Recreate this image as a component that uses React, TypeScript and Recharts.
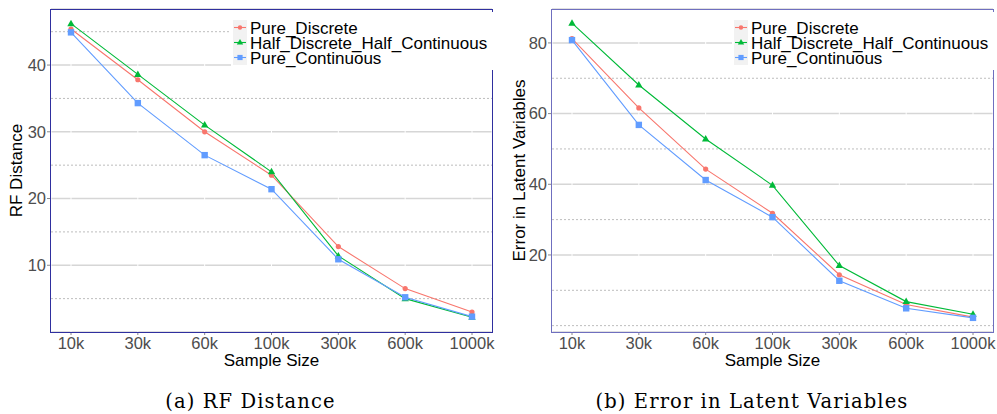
import React from "react";
import {
  LineChart,
  Line,
  XAxis,
  YAxis,
  CartesianGrid,
  ReferenceLine,
  Label,
} from "recharts";

// sample sizes (x categories)
const sizes = ["10k", "30k", "60k", "100k", "300k", "600k", "1000k"];

// (a) RF distance
const rfPureDiscrete = [45.4, 37.8, 30.0, 23.5, 12.8, 6.5, 3.0];
const rfHalf = [46.2, 38.6, 31.0, 24.0, 11.4, 5.0, 2.2];
const rfPureContinuous = [44.9, 34.3, 26.5, 21.4, 10.9, 5.2, 2.3];

// (b) error in latent variables
const lvPureDiscrete = [81.2, 61.6, 44.3, 31.8, 14.4, 6.0, 2.4];
const lvHalf = [85.6, 68.1, 52.8, 39.7, 17.0, 6.8, 3.2];
const lvPureContinuous = [80.8, 56.8, 41.2, 30.7, 12.7, 4.9, 2.2];

const rfTicks = [10, 20, 30, 40];
const rfMinor = [5, 15, 25, 35, 45];
const lvTicks = [20, 40, 60, 80];
const lvMinor = [0, 10, 30, 50, 70];

const seriesNames = ["Pure_Discrete", "Half_Discrete_Half_Continuous", "Pure_Continuous"];

const RED = "#F8766D";
const GREEN = "#00BA38";
const BLUE = "#619CFF";

const SANS = "'Liberation Sans', Arial, sans-serif";
const tickStyle = { fontSize: 16.5, fill: "#4d4d4d", fontFamily: SANS };

function buildRows(a: number[], b: number[], c: number[]) {
  return sizes.map((s, i) => ({ size: s, pd: a[i], hdhc: b[i], pc: c[i] }));
}

const rfRows = buildRows(rfPureDiscrete, rfHalf, rfPureContinuous);
const lvRows = buildRows(lvPureDiscrete, lvHalf, lvPureContinuous);

function circleDot(p: any) {
  return <circle key={`c${p.index}`} cx={p.cx} cy={p.cy} r={2.6} fill={RED} />;
}
function triDot(p: any) {
  const { cx, cy } = p;
  return (
    <polygon
      key={`t${p.index}`}
      points={`${cx},${cy - 4} ${cx - 3.7},${cy + 2.5} ${cx + 3.7},${cy + 2.5}`}
      fill={GREEN}
    />
  );
}
function squareDot(p: any) {
  return <rect key={`s${p.index}`} x={p.cx - 3.2} y={p.cy - 3.2} width={6.4} height={6.4} fill={BLUE} />;
}

function yTitle(text: string, off: number) {
  return (props: any) => {
    const vb = props.viewBox || { x: 0, y: 0, width: 0, height: 0 };
    const cx = vb.x + off;
    const cy = vb.y + vb.height / 2;
    return (
      <text
        x={cx}
        y={cy}
        transform={`rotate(-90 ${cx} ${cy})`}
        textAnchor="middle"
        dominantBaseline="central"
        fontSize={17}
        fontFamily={SANS}
        fill="#000"
      >
        {text}
      </text>
    );
  };
}

function Panel({
  rows,
  width,
  yWidth,
  right,
  domain,
  ticks,
  minor,
  title,
  titleOff,
}: {
  rows: any[];
  width: number;
  yWidth: number;
  right: number;
  domain: [number, number];
  ticks: number[];
  minor: number[];
  title: string;
  titleOff: number;
}) {
  return (
    <LineChart width={width} height={370} data={rows} margin={{ top: 9, right, bottom: 0, left: 0 }}>
      <CartesianGrid vertical={false} stroke="#d6d6d6" strokeWidth={1.5} />
      {minor.map((v) => (
        <ReferenceLine key={v} y={v} stroke="#bdbdbd" strokeDasharray="2 2" strokeWidth={1} />
      ))}
      <CartesianGrid horizontal={false} stroke="#ffffff" strokeWidth={1} />
      <XAxis
        dataKey="size"
        interval={0}
        padding={{ left: 20, right: 20 }}
        axisLine={false}
        tickLine={{ stroke: "#888" }}
        tickSize={3}
        tickMargin={2}
        height={38}
        tick={tickStyle}
      >
        <Label value="Sample Size" position="insideBottom" offset={4} fontSize={17} fontFamily={SANS} fill="#000" />
      </XAxis>
      <YAxis
        type="number"
        domain={domain}
        allowDataOverflow
        ticks={ticks}
        width={yWidth}
        axisLine={false}
        tickLine={{ stroke: "#888" }}
        tickSize={4}
        tickMargin={1}
        tick={tickStyle}
      >
        <Label content={yTitle(title, titleOff)} />
      </YAxis>
      <Line dataKey="pd" stroke={RED} strokeWidth={1.1} dot={circleDot} isAnimationActive={false} />
      <Line dataKey="hdhc" stroke={GREEN} strokeWidth={1.1} dot={triDot} isAnimationActive={false} />
      <Line dataKey="pc" stroke={BLUE} strokeWidth={1.1} dot={squareDot} isAnimationActive={false} />
    </LineChart>
  );
}

function KeyIcon({ i }: { i: number }) {
  const color = [RED, GREEN, BLUE][i];
  return (
    <svg width={14} height={15} style={{ display: "block" }}>
      <rect x={0} y={0} width={14} height={15} fill="#f2f2f2" />
      <line x1={1} x2={13} y1={7.5} y2={7.5} stroke={color} strokeWidth={1.1} />
      {i === 0 && <circle cx={7} cy={7.5} r={2.2} fill={color} />}
      {i === 1 && <polygon points="7,4 3.8,9.6 10.2,9.6" fill={color} />}
      {i === 2 && <rect x={4.4} y={4.9} width={5.2} height={5.2} fill={color} />}
    </svg>
  );
}

function Legend2({ left, keyX, textX, width }: { left: number; keyX: number; textX: number; width: number }) {
  return (
    <div style={{ position: "absolute", left, top: 12, width, height: 58, background: "#fff" }}>
      {seriesNames.map((n, i) => (
        <React.Fragment key={n}>
          <div style={{ position: "absolute", left: keyX - left, top: 20 - 12 + i * 15 }}>
            <KeyIcon i={i} />
          </div>
          <div
            style={{
              position: "absolute",
              left: textX - left,
              top: 21 - 12 + i * 15,
              fontFamily: SANS,
              fontSize: 17,
              lineHeight: "15px",
              whiteSpace: "nowrap",
              color: "#000",
            }}
          >
            {n}
          </div>
        </React.Fragment>
      ))}
    </div>
  );
}

const captionStyle: React.CSSProperties = {
  position: "absolute",
  top: 392,
  textAlign: "center",
  fontFamily: "'DejaVu Serif', serif",
  fontSize: 19.5,
  lineHeight: "20px",
  letterSpacing: "1.1px",
  color: "#000",
  whiteSpace: "nowrap",
};

export default function App() {
  return (
    <div style={{ position: "absolute", left: 0, top: 0, width: 997, height: 414, background: "#fff", overflow: "hidden" }}>
      <div style={{ position: "absolute", left: 0, top: 0 }}>
        <Panel
          rows={rfRows}
          width={500}
          yWidth={51}
          right={8}
          domain={[0, 48.4]}
          ticks={rfTicks}
          minor={rfMinor}
          title="RF Distance"
          titleOff={16}
        />
      </div>
      <div style={{ position: "absolute", left: 500, top: 0 }}>
        <Panel
          rows={lvRows}
          width={497}
          yWidth={52}
          right={4}
          domain={[-1.8, 89.6]}
          ticks={lvTicks}
          minor={lvMinor}
          title="Error in Latent Variables"
          titleOff={19}
        />
      </div>
      {/* panel borders */}
      <div style={{ position: "absolute", left: 50, top: 9, width: 443, height: 324, boxSizing: "border-box", border: "1px solid #2f2f9f", pointerEvents: "none" }} />
      <div style={{ position: "absolute", left: 551, top: 9, width: 443, height: 324, boxSizing: "border-box", border: "1px solid #6f6fbf", pointerEvents: "none" }} />
      <Legend2 left={231} keyX={233} textX={250} width={269} />
      <Legend2 left={732} keyX={734} textX={751} width={265} />
      <div style={{ ...captionStyle, left: 0, width: 501 }}>(a) RF Distance</div>
      <div style={{ ...captionStyle, left: 503, width: 498 }}>(b) Error in Latent Variables</div>
    </div>
  );
}
